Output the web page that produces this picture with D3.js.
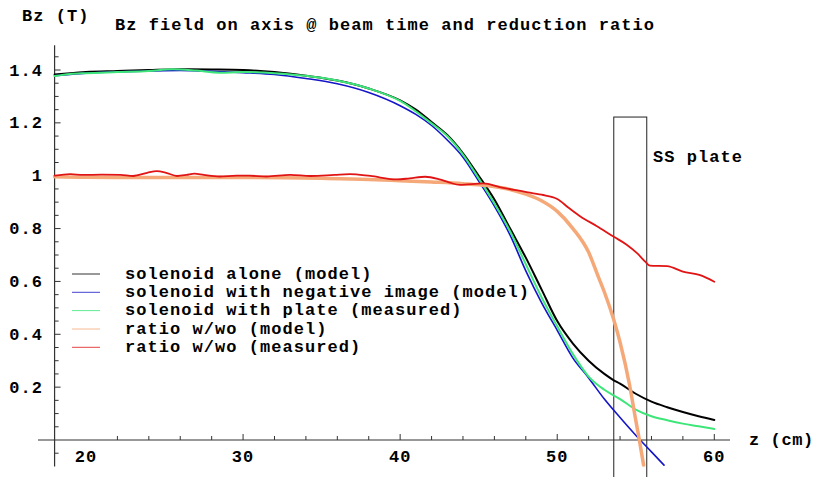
<!DOCTYPE html>
<html>
<head>
<meta charset="utf-8">
<script src="https://cdn.jsdelivr.net/npm/d3@7"></script>
<style>
html,body{margin:0;padding:0;background:#fff;}
text{font-family:"Liberation Mono","Courier New",monospace;font-weight:bold;fill:#000;}
</style>
</head>
<body>
<svg id="chart" width="815" height="477"></svg>
<script>
// ---------- data ----------
const titleText = "Bz field on axis @ beam time and reduction ratio";
const yLabel = "Bz (T)";
const xLabel = "z (cm)";
const xTicks = [20, 30, 40, 50, 60];
const yTicks = [0.2, 0.4, 0.6, 0.8, 1, 1.2, 1.4];
const yTickLabels = ["0.2", "0.4", "0.6", "0.8", "1", "1.2", "1.4"];
const seriesNames = [
  "solenoid alone (model)",
  "solenoid with negative image (model)",
  "solenoid with plate (measured)",
  "ratio w/wo (model)",
  "ratio w/wo (measured)"
];
const seriesColors = ["#000000", "#1414c8", "#3ee67a", "#f5a878", "#e01414"];

const solenoidAlone = [[18,1.383],[19,1.388],[20,1.392],[22,1.396],[24,1.400],[26,1.403],[28,1.402],[30,1.400],[32,1.392],[34,1.378],[36,1.360],[38,1.330],[40,1.285],[41,1.250],[42,1.203],[43,1.154],[44,1.085],[45,1.000],[46,0.910],[47,0.800],[48,0.690],[49,0.570],[50,0.450],[51,0.365],[52,0.300],[53,0.250],[53.6,0.226],[54,0.213],[55,0.175],[56,0.145],[57,0.124],[58,0.106],[59,0.090],[60,0.076]];
const negativeImage = [[18,1.378],[20,1.388],[22,1.393],[24,1.396],[26,1.398],[28,1.395],[30,1.390],[32,1.383],[34,1.368],[36,1.348],[38,1.315],[40,1.265],[41,1.232],[42,1.190],[43,1.135],[44,1.070],[45,0.980],[46,0.885],[47,0.775],[48,0.640],[49,0.520],[50,0.415],[51,0.310],[52,0.235],[53,0.155],[54,0.085],[55,0.018],[56,-0.045],[56.8,-0.095]];
const withPlate = [[18,1.377],[19,1.385],[20,1.388],[22,1.392],[24,1.396],[25.5,1.403],[27,1.398],[28.5,1.390],[30,1.392],[32,1.388],[34,1.378],[36,1.360],[38,1.330],[40,1.283],[42,1.198],[43,1.150],[44,1.080],[45,0.990],[46,0.895],[47,0.790],[48,0.665],[49,0.540],[50,0.430],[51,0.325],[52,0.240],[53,0.190],[54,0.155],[55,0.115],[56,0.090],[57,0.075],[58,0.062],[59,0.052],[60,0.042]];
const ratioModel = [[18,0.996],[20,0.994],[25,0.993],[30,0.993],[35,0.990],[38,0.986],[40,0.981],[42,0.976],[44,0.970],[45.5,0.963],[47,0.948],[48,0.930],[49,0.905],[50,0.865],[51,0.800],[52,0.710],[52.6,0.620],[53,0.560],[53.6,0.455],[54,0.370],[54.6,0.210],[55,0.075],[55.2,0.010],[55.5,-0.095]];
const ratioMeasured = [[18,1.000],[19,1.006],[19.8,1.003],[21,1.004],[22.2,1.003],[23,0.999],[23.9,1.011],[24.5,1.017],[25.1,1.011],[25.8,0.999],[26.4,1.003],[26.9,1.008],[27.5,1.003],[28.5,0.997],[29.6,1.000],[30.4,1.000],[31.5,0.997],[33,1.003],[34.3,0.999],[35.8,1.003],[36.8,1.006],[38.1,0.999],[39.8,0.986],[40.6,0.990],[41.6,0.996],[42.5,0.986],[43.1,0.975],[43.8,0.965],[45.3,0.971],[46.4,0.956],[47.9,0.940],[49,0.928],[50,0.912],[50.7,0.880],[51.5,0.845],[52.5,0.810],[53.6,0.769],[54.4,0.740],[55.1,0.706],[55.6,0.675],[55.9,0.660],[57,0.658],[58,0.637],[59.1,0.624],[60,0.599]];
const plateZ = [53.6, 55.7];
const plateTop = 1.222;
const plateLabel = "SS plate";

// ---------- layout ----------
const svg = d3.select("#chart");
const x = d3.scaleLinear().domain([20, 60]).range([86, 714.3]);
const y = d3.scaleLinear().domain([0, 1.4]).range([440, 70]);

const font = {size: 17, ls: 1.05};
function txt(sel){ return sel.attr("font-size", font.size).attr("letter-spacing", font.ls); }

// axes lines
const axisColor = "#333";
svg.append("line").attr("x1", 38).attr("x2", 730)
  .attr("y1", y(0)).attr("y2", y(0)).attr("stroke", axisColor).attr("stroke-width", 1.2);
svg.append("line").attr("x1", x(18)).attr("x2", x(18))
  .attr("y1", y(1.494)).attr("y2", y(-0.1)).attr("stroke", axisColor).attr("stroke-width", 1.2);

// x ticks
const xMinor = d3.range(22, 61, 2);
svg.append("g").selectAll("line").data(xMinor).join("line")
  .attr("x1", d => x(d)).attr("x2", d => x(d))
  .attr("y1", y(0)).attr("y2", d => y(0) - (d % 10 === 0 ? 6 : 4))
  .attr("stroke", axisColor).attr("stroke-width", 1);
svg.append("g").selectAll("text").data(xTicks).join("text")
  .call(txt)
  .attr("x", d => x(d)).attr("y", 462).attr("text-anchor", "middle")
  .text(d => d);

// y ticks
const yMinor = d3.range(-1, 30).map(i => i * 0.05).filter(v => Math.abs(v) > 1e-9);
svg.append("g").selectAll("line").data(yMinor).join("line")
  .attr("x1", x(18)).attr("x2", d => x(18) + (Math.abs(Math.round(d * 100) % 20) === 0 ? 6 : 4))
  .attr("y1", d => y(d)).attr("y2", d => y(d))
  .attr("stroke", axisColor).attr("stroke-width", 1);
svg.append("g").selectAll("text").data(yTicks).join("text")
  .call(txt)
  .attr("x", 43).attr("y", d => y(d) + 5.5).attr("text-anchor", "end")
  .text((d, i) => yTickLabels[i]);

// titles
svg.append("text").call(txt).attr("x", 22).attr("y", 20.5).text(yLabel);
svg.append("text").call(txt).attr("x", 115).attr("y", 30).text(titleText);
svg.append("text").attr("font-size", font.size).attr("letter-spacing", 0.6)
  .attr("x", 749).attr("y", 445).text(xLabel);

// SS plate rectangle
svg.append("rect")
  .attr("x", x(plateZ[0])).attr("y", y(plateTop))
  .attr("width", x(plateZ[1]) - x(plateZ[0]))
  .attr("height", y(-0.2) - y(plateTop))
  .attr("fill", "none").attr("stroke", "#222").attr("stroke-width", 1);
svg.append("text").call(txt).attr("x", 653).attr("y", 162).text(plateLabel);

// curves
const smooth = d3.line().x(d => x(d[0])).y(d => y(d[1])).curve(d3.curveMonotoneX);
const allSeries = [solenoidAlone, negativeImage, withPlate, ratioModel, ratioMeasured];
const widths = [2, 1.6, 2, 3.5, 1.8];
[0, 1, 2, 3, 4].forEach(i => {
  svg.append("path").attr("d", smooth(allSeries[i]))
    .attr("fill", "none").attr("stroke", seriesColors[i])
    .attr("stroke-width", widths[i]).attr("stroke-linejoin", "round").attr("stroke-linecap", "round");
});

// legend
const lg = svg.append("g");
const rowY = [274, 292.3, 310.6, 329, 347.3];
seriesNames.forEach((name, i) => {
  lg.append("line").attr("x1", 72).attr("x2", 100)
    .attr("y1", rowY[i]).attr("y2", rowY[i])
    .attr("stroke", seriesColors[i]).attr("stroke-width", 1).attr("opacity", 0.8);
  lg.append("text").call(txt).attr("x", 125).attr("y", rowY[i] + 4.5).text(name);
});
</script>
</body>
</html>
